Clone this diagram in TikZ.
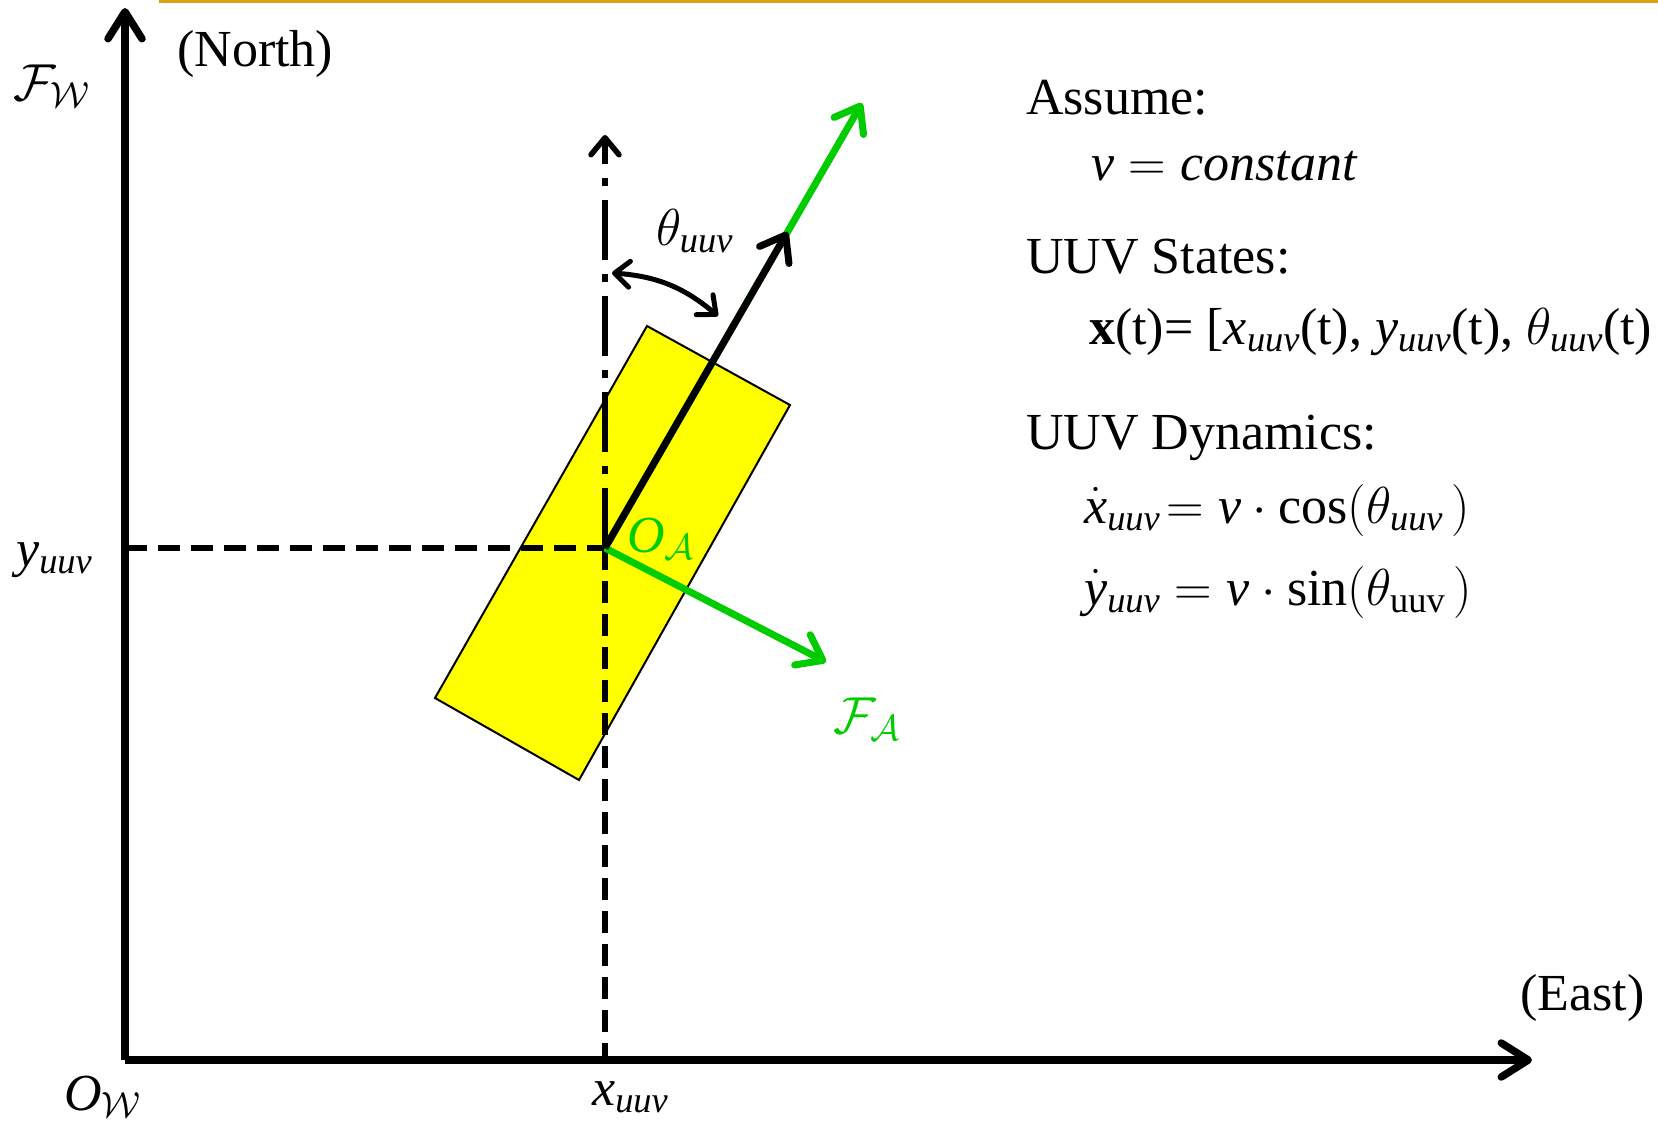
\RequirePackage{fix-cm}
\documentclass[tikz,border=0pt]{standalone}
\usepackage{amsmath}
\usepackage{fontspec}
\setmainfont{Liberation Serif}
\usetikzlibrary{arrows.meta}

\definecolor{framegreen}{RGB}{0,204,0}
\definecolor{slidegold}{RGB}{214,162,20}
\definecolor{bodyyellow}{RGB}{255,255,0}
\newcommand{\uuv}{\mathit{uuv}}

\begin{document}
\begin{tikzpicture}[x=1pt, y=-1pt,
  every node/.style = {inner sep=0pt, anchor=base west,
                       font=\fontsize{52}{62}\selectfont},
  axis/.style     = {line width=7.5pt,
                     -{Straight Barb[length=27pt, width=34pt, round]}},
  guide/.style    = {line width=5.5pt, dash pattern=on 22pt off 11pt},
  dashdot/.style  = {line width=5.5pt, dash pattern=on 60pt off 14pt on 8pt off 14pt,
                     -{Straight Barb[length=17pt, width=28pt, round]}},
  heading/.style  = {line width=7pt,
                     -{Straight Barb[length=23pt, width=34pt, round]}},
  body/.style     = {fill=bodyyellow, draw=black, line width=2pt},
  angarr/.style   = {line width=5pt,
                     {Straight Barb[length=15pt, width=26pt, round]}-{Straight Barb[length=15pt, width=26pt, round]}}
]
\useasboundingbox (0,0) rectangle (1658,1122);

% , - Slide rule , -
\draw[slidegold, line width=3pt] (159,1.5) -- (1658,1.5);

% , - World frame , -
\coordinate (OW)    at (125,1060);
\coordinate (north) at (125,8);
\coordinate (east)  at (1532,1060);
\coordinate (OA)    at (605,548);
\coordinate (up)    at (605,135);

\draw[axis] (OW) -- (north);
\draw[axis] (OW) -- (east);

% , - Vehicle body , -
\draw[body] (647,326) -- (790,405) -- (579,780) -- (435,698) -- cycle;

% , - Projections , -
\draw[guide] (OW |- OA) -- (OA);
\draw[guide] (OA) -- (OA |- OW);
\draw[dashdot] (OA) -- (up);

% , - Body frame , -
\coordinate (head) at (787.5,232);
\coordinate (nose) at (862,103);
\coordinate (side) at (826,662);
\draw[heading, framegreen] (OA) -- (nose);
\draw[heading, framegreen] (OA) -- (side);
\draw[heading] (OA) -- (head);

% , - Heading angle , -
\coordinate (angA) at (612,273);
\coordinate (angB) at (718,316);
\draw[angarr] (angA) to[bend left=18] (angB);

% , - Labels , -
\node (northlbl) at (177,66)   {(North)};
\node (eastlbl)  at (1520,1010) {(East)};
\node (FWlbl)    at (13,100)   {$\mathcal{F}_{\mathcal{W}}$};
\node (OWlbl)    at (64,1110)  {$\mathit{O}_{\mathcal{W}}$};
\node (ylbl)     at (16,566)   {$\mathit{y}_{\uuv}$};
\node (xlbl)     at (592,1105) {$\mathit{x}_{\uuv}$};
\node (thlbl)    at (656,245)  {$\theta_{\uuv}$};
\node[text=framegreen] (OAlbl) at (627,552) {$\mathit{O}_{\mathcal{A}}$};
\node[text=framegreen] (FAlbl) at (833,733) {$\mathcal{F}_{\mathcal{A}}$};

% , - Model text , -
\node (assume)   at (1026,114) {Assume:};
\node (vconst)   at (1091,180) {$\mathit{v} = \mathit{constant}$};
\node (states)   at (1026,273) {UUV States:};
\node (statevec) at (1089,344)
  {\textbf{x}(t)= [$\mathit{x}_{\uuv}$(t), $\mathit{y}_{\uuv}$(t), $\theta_{\uuv}$(t)};
\node (dynamics) at (1026,449) {UUV Dynamics:};
\node (xdot)     at (1084,523)
  {$\dot{\mathit{x}}_{\uuv}\!= \mathit{v}\cdot\mathrm{cos}(\theta_{\uuv}\,)$};
\node (ydot)     at (1084,605)
  {$\dot{\mathit{y}}_{\uuv} = \mathit{v}\cdot\mathrm{sin}(\theta_{\mathrm{uuv}}\,)$};

\end{tikzpicture}
\end{document}
